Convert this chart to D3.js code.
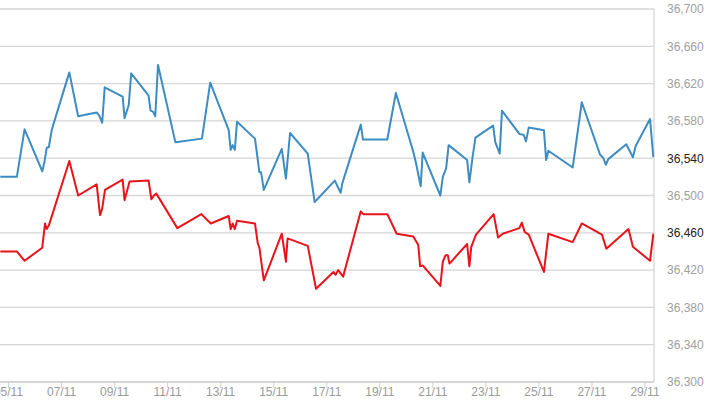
<!DOCTYPE html>
<html>
<head>
<meta charset="utf-8">
<script src="https://cdn.jsdelivr.net/npm/d3@7"></script>
<style>
  html, body { margin: 0; padding: 0; background: #fff; }
  svg { display: block; font-family: "Liberation Sans", Arial, sans-serif; }
</style>
</head>
<body>
<svg id="chart" width="710" height="400"></svg>
<script>
// ---- data ----
const blueDates = [
  "2016-11-04 17:00","2016-11-05 08:00","2016-11-05 15:00","2016-11-06 07:00","2016-11-06 09:00",
  "2016-11-06 11:00","2016-11-06 13:00","2016-11-06 15:30","2016-11-06 17:00","2016-11-07 07:30",
  "2016-11-07 15:30","2016-11-08 08:15","2016-11-08 10:30","2016-11-08 13:15","2016-11-08 15:30",
  "2016-11-09 07:45","2016-11-09 09:30","2016-11-09 13:15","2016-11-09 15:30","2016-11-10 07:15",
  "2016-11-10 09:00","2016-11-10 11:15","2016-11-10 13:15","2016-11-10 15:45","2016-11-11 07:30",
  "2016-11-12 07:30","2016-11-12 15:00","2016-11-13 07:45","2016-11-13 09:30","2016-11-13 11:15",
  "2016-11-13 13:15","2016-11-13 15:15","2016-11-14 07:30","2016-11-14 11:30","2016-11-14 13:00",
  "2016-11-14 15:30","2016-11-15 07:45","2016-11-15 11:30","2016-11-15 15:15","2016-11-16 07:15",
  "2016-11-16 13:30","2016-11-17 07:45","2016-11-17 13:00","2016-11-17 14:30","2016-11-18 07:15",
  "2016-11-18 09:15","2016-11-19 07:15","2016-11-19 15:00","2016-11-20 06:45","2016-11-20 09:00",
  "2016-11-20 13:30","2016-11-20 15:15","2016-11-21 07:15","2016-11-21 09:30","2016-11-21 12:30",
  "2016-11-21 14:45","2016-11-22 07:30","2016-11-22 09:30","2016-11-22 12:30","2016-11-22 15:00",
  "2016-11-23 07:00","2016-11-23 09:00","2016-11-23 13:00","2016-11-23 15:00","2016-11-24 06:45",
  "2016-11-24 10:45","2016-11-24 12:45","2016-11-24 15:15","2016-11-25 05:00","2016-11-25 07:00",
  "2016-11-25 09:00","2016-11-26 07:00","2016-11-26 15:15","2016-11-27 07:45","2016-11-27 10:45",
  "2016-11-27 13:00","2016-11-27 15:15","2016-11-28 07:30","2016-11-28 13:30","2016-11-28 16:00",
  "2016-11-29 05:00","2016-11-29 08:00"
];
const blueValues = [
  36520,36520,36571,36526,36536,
  36551,36552,36570,36576,36632,
  36585,36589,36586,36578,36616,
  36606,36583,36597,36631,36607,
  36591,36590,36585,36640,36557,
  36561,36621,36570,36549,36554,
  36549,36579,36561,36525,36525,
  36506,36550,36518,36567,36545,
  36493,36516,36503,36513,36576,
  36560,36560,36610,36547,36536,
  36510,36546,36500,36520,36529,
  36554,36538,36514,36542,36562,
  36575,36557,36545,36591,36566,
  36565,36558,36573,36570,36538,
  36548,36530,36600,36544,36540,
  36533,36539,36555,36541,36553,
  36582,36541
];
const redDates = [
  "2016-11-04 17:00","2016-11-05 08:00","2016-11-05 15:00","2016-11-06 07:00","2016-11-06 09:30",
  "2016-11-06 11:00","2016-11-06 13:00","2016-11-07 07:30","2016-11-07 15:30","2016-11-08 08:15",
  "2016-11-08 11:15","2016-11-08 13:15","2016-11-08 15:45","2016-11-09 07:45","2016-11-09 09:30",
  "2016-11-09 14:00","2016-11-10 07:15","2016-11-10 09:45","2016-11-10 12:00","2016-11-10 14:15",
  "2016-11-11 09:15","2016-11-12 07:00","2016-11-12 15:30","2016-11-13 07:45","2016-11-13 09:30",
  "2016-11-13 11:15","2016-11-13 13:15","2016-11-13 15:15","2016-11-14 07:30","2016-11-14 10:00",
  "2016-11-14 11:30","2016-11-14 15:30","2016-11-15 07:45","2016-11-15 11:30","2016-11-15 13:00",
  "2016-11-16 07:15","2016-11-16 14:45","2016-11-17 06:30","2016-11-17 08:30","2016-11-17 10:45",
  "2016-11-17 15:15","2016-11-18 07:15","2016-11-18 09:30","2016-11-19 07:15","2016-11-19 15:45",
  "2016-11-20 06:45","2016-11-20 11:15","2016-11-20 13:00","2016-11-20 15:15","2016-11-21 07:15",
  "2016-11-21 09:30","2016-11-21 12:00","2016-11-21 14:00","2016-11-21 15:30","2016-11-22 07:30",
  "2016-11-22 09:30","2016-11-22 11:15","2016-11-22 15:30","2016-11-23 07:30","2016-11-23 11:30",
  "2016-11-23 15:45","2016-11-24 06:45","2016-11-24 09:00","2016-11-24 11:30","2016-11-24 15:15",
  "2016-11-25 05:00","2016-11-25 09:00","2016-11-26 07:00","2016-11-26 15:15","2016-11-27 09:30",
  "2016-11-27 13:30","2016-11-28 09:30","2016-11-28 13:30","2016-11-29 05:00","2016-11-29 08:00"
];
const redValues = [
  36440,36440,36430,36444,36470,
  36464,36468,36537,36500,36512,
  36479,36486,36506,36517,36495,
  36515,36516,36496,36500,36502,
  36465,36480,36470,36478,36464,
  36470,36464,36473,36470,36449,
  36444,36409,36459,36429,36454,
  36446,36400,36418,36415,36420,
  36413,36483,36480,36480,36459,
  36456,36447,36424,36425,36403,
  36429,36436,36436,36427,36448,
  36424,36445,36458,36480,36455,
  36459,36465,36471,36461,36458,
  36418,36459,36450,36470,36458,
  36443,36464,36445,36430,36459
];
const yTicks = [36300,36340,36380,36420,36460,36500,36540,36580,36620,36660,36700];
const xTickDates = ["2016-11-05","2016-11-07","2016-11-09","2016-11-11","2016-11-13","2016-11-15",
  "2016-11-17","2016-11-19","2016-11-21","2016-11-23","2016-11-25","2016-11-27","2016-11-29"];
const highlightTicks = [36540, 36460];

// ---- drawing ----
const parseT = d3.utcParse("%Y-%m-%d %H:%M");
const parseD = d3.utcParse("%Y-%m-%d");
const svg = d3.select("#chart");
const plotLeft = 0, plotRight = 654, plotTop = 9, plotBottom = 382;

const x = d3.scaleUtc()
  .domain([parseD("2016-11-05"), parseD("2016-11-29")])
  .range([8, 644.5]);
const y = d3.scaleLinear().domain([36300, 36700]).range([plotBottom, plotTop]);

svg.append("defs").append("clipPath").attr("id", "clip")
  .append("rect").attr("x", plotLeft).attr("y", 0)
  .attr("width", plotRight - plotLeft).attr("height", plotBottom + 2);

// horizontal gridlines
svg.append("g").selectAll("line").data(yTicks.slice(1)).join("line")
  .attr("x1", plotLeft).attr("x2", plotRight)
  .attr("y1", d => y(d)).attr("y2", d => y(d))
  .attr("stroke", "#d6d6d6").attr("stroke-width", 1.3);

// right border
svg.append("line").attr("x1", plotRight).attr("x2", plotRight)
  .attr("y1", plotTop).attr("y2", plotBottom)
  .attr("stroke", "#d6d6d6").attr("stroke-width", 1.3);

// bottom axis
const xAxis = d3.axisBottom(x)
  .tickValues(xTickDates.map(parseD))
  .tickFormat(d3.utcFormat("%d/%m"))
  .tickSize(6).tickSizeOuter(0);
const gx = svg.append("g").attr("transform", `translate(0,${plotBottom})`).call(xAxis);
gx.select(".domain").remove();
gx.selectAll(".tick line").attr("stroke", "#d0d0d0");
gx.selectAll(".tick text").attr("fill", "#9a9a9a").attr("font-size", 12)
  .attr("dy", "0.45em").attr("font-family", "'Liberation Sans', Arial, sans-serif");
svg.append("line").attr("x1", plotLeft).attr("x2", plotRight)
  .attr("y1", plotBottom).attr("y2", plotBottom)
  .attr("stroke", "#c8c8c8").attr("stroke-width", 1.5);

// right axis labels
const yAxis = d3.axisRight(y).tickValues(yTicks)
  .tickFormat(d3.format(",")).tickSize(0).tickPadding(13);
const gy = svg.append("g").attr("transform", `translate(${plotRight},0)`).call(yAxis);
gy.select(".domain").remove();
gy.selectAll(".tick text")
  .attr("font-size", 12).attr("font-family", "'Liberation Sans', Arial, sans-serif")
  .attr("fill", d => highlightTicks.includes(d) ? "#222" : "#a0a0a0");

// lines
const line = d3.line().x(d => x(d.t)).y(d => y(d.v));
const blue = blueDates.map((t, i) => ({ t: parseT(t), v: blueValues[i] }));
const red = redDates.map((t, i) => ({ t: parseT(t), v: redValues[i] }));
const lg = svg.append("g").attr("clip-path", "url(#clip)");
lg.append("path").datum(blue).attr("d", line)
  .attr("fill", "none").attr("stroke", "#3d8cc2").attr("stroke-width", 2)
  .attr("stroke-linejoin", "round");
lg.append("path").datum(red).attr("d", line)
  .attr("fill", "none").attr("stroke", "#e8131b").attr("stroke-width", 2)
  .attr("stroke-linejoin", "round");
</script>
</body>
</html>
